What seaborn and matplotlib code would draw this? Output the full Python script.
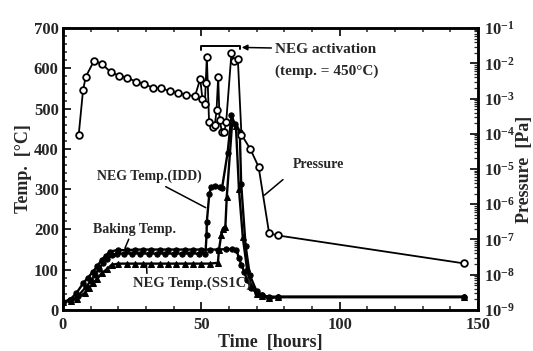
import matplotlib
matplotlib.use("Agg")
import matplotlib.pyplot as plt
import matplotlib.ticker as mticker
import seaborn as sns
import pandas as pd

# ---------------- data ----------------
baking_h = [0, 2.5, 4.9, 7.3, 9, 10.9, 12.5, 14, 15.5, 17, 20, 23, 26, 29, 32, 35, 38, 41,
            44, 47, 50, 53, 56, 59, 61, 62.7, 63.6, 64.5, 65.5, 66.5, 68, 70, 72, 74.5, 77.7, 145]
baking_t = [20, 25, 42, 66, 80, 95, 110, 124, 135, 145, 149, 148, 150, 150, 150, 150, 150, 150,
            150, 150, 150, 150, 150, 151, 151, 150, 128, 112, 95, 75, 55, 42, 36, 33, 33, 33]

idd_h = [0, 2.5, 5.5, 8.5, 10, 11.6, 13, 14.5, 16, 17.6, 19.5, 22, 25, 28, 31, 34, 37, 40, 43,
         46, 49, 51.5, 51.9, 52.0, 52.9, 53.6, 55, 56.7, 57.5, 59.5, 60.9, 62.1, 63.9, 64.4,
         66.0, 67.5, 70, 72, 74.5, 77.7, 145]
idd_t = [20, 24, 35, 58, 72, 87, 102, 116, 127, 136, 140, 140, 140, 140, 140, 140, 140, 140, 140,
         140, 140, 140, 186, 219, 289, 305, 308, 305, 303, 390, 483, 462, 442, 314,
         160, 87, 46, 36, 30, 32, 32]

ss1c_h = [0, 3, 5, 7.9, 9.5, 10.9, 12.5, 14, 16, 17.6, 20, 23, 26, 29, 32, 35, 38, 41, 44, 47,
          50, 53, 56.0, 56.4, 57.2, 57.8, 58.7, 59.2, 61.2, 62.5, 63.6, 65, 66.5, 68, 70, 72,
          74.5, 77.7, 145]
ss1c_t = [20, 22, 28, 42, 55, 66, 78, 91, 102, 112, 115, 115, 115, 115, 115, 115, 115, 115, 115,
          115, 115, 115, 117, 150, 186, 202, 207, 281, 470, 458, 300, 180, 103, 60, 40, 34,
          30, 32, 32]

press_h = [5.7, 7.3, 8.3, 11.3, 14.3, 17.3, 20.2, 23.3, 26.4, 29.3, 32.6, 35.6, 38.6, 41.6,
           44.6, 47.7, 49.6, 50.4, 51.3, 51.6, 52.0, 52.8, 54.2, 54.9, 55.5, 56.1, 56.6, 57.5,
           58.3, 59.0, 60.9, 61.8, 63.2, 64.5, 67.7, 70.7, 74.5, 77.7, 144.8]
press_pa = [9.1e-5, 1.8e-3, 4.2e-3, 1.2e-2, 9.3e-3, 5.6e-3, 4.5e-3, 3.9e-3, 3.0e-3, 2.6e-3,
            2.0e-3, 2.0e-3, 1.6e-3, 1.45e-3, 1.3e-3, 1.15e-3, 3.6e-3, 1.0e-3, 7.0e-4, 2.8e-3,
            1.55e-2, 2.2e-4, 1.6e-4, 1.75e-4, 4.6e-4, 4.1e-3, 2.5e-4, 1.1e-4, 1.1e-4, 2.2e-4,
            2.0e-2, 1.2e-2, 1.35e-2, 9.5e-5, 3.7e-5, 1.15e-5, 1.5e-7, 1.3e-7, 2.1e-8]

temp_ticks = [0, 100, 200, 300, 400, 500, 600, 700]
time_ticks = [0, 50, 100, 150]

# ---------------- style ----------------
sns.set_style("ticks")
plt.rcParams["font.family"] = ["Liberation Serif", "DejaVu Serif"]
plt.rcParams["font.weight"] = "bold"
plt.rcParams["mathtext.fontset"] = "custom"
plt.rcParams["mathtext.rm"] = "Liberation Serif:bold"
plt.rcParams["mathtext.bf"] = "Liberation Serif:bold"
plt.rcParams["mathtext.it"] = "Liberation Serif:bold"
plt.rcParams["mathtext.default"] = "bf"

fig = plt.figure(figsize=(5.33, 3.51), dpi=100)
ax = fig.add_axes([0.118, 0.117, 0.779, 0.803])
ax2 = ax.twinx()

lw = 1.7
df_b = pd.DataFrame({"h": baking_h, "t": baking_t})
df_i = pd.DataFrame({"h": idd_h, "t": idd_t})
df_s = pd.DataFrame({"h": ss1c_h, "t": ss1c_t})
df_p = pd.DataFrame({"h": press_h, "p": press_pa})

sns.lineplot(data=df_b, x="h", y="t", ax=ax, sort=False, estimator=None, color="black",
             lw=lw, marker="o", markersize=3.8, markeredgecolor="black")
sns.lineplot(data=df_i, x="h", y="t", ax=ax, sort=False, estimator=None, color="black",
             lw=lw, marker="o", markersize=3.8, markeredgecolor="black")
sns.lineplot(data=df_s, x="h", y="t", ax=ax, sort=False, estimator=None, color="black",
             lw=lw, marker="^", markersize=3.8, markeredgecolor="black")
sns.lineplot(data=df_p, x="h", y="p", ax=ax2, sort=False, estimator=None, color="black",
             lw=1.3, marker="o", markersize=4.8, markerfacecolor="white",
             markeredgecolor="black", markeredgewidth=1.3)

# ---------------- axes ----------------
ax.set_xlim(0, 150)
ax.set_ylim(0, 700)
ax.set_xticks(time_ticks)
ax.set_yticks(temp_ticks)
ax.xaxis.set_minor_locator(mticker.MultipleLocator(10))
ax.yaxis.set_minor_locator(mticker.MultipleLocator(20))
ax.tick_params(axis="both", which="major", direction="in", length=6, width=1.4,
               labelsize=12, top=True, right=False, pad=3)
ax.tick_params(axis="x", which="major", pad=5)
ax.tick_params(axis="both", which="minor", direction="in", length=3, width=1.1,
               top=True, right=False)
ax.set_xlabel("Time  [hours]", fontsize=13, fontweight="bold", labelpad=1)
ax.set_ylabel("Temp.  [°C]", fontsize=13, fontweight="bold", labelpad=1)

ax2.set_yscale("log")
ax2.set_ylim(1e-9, 1e-1)
ax2.yaxis.set_major_locator(mticker.LogLocator(base=10, numticks=12))
ax2.yaxis.set_minor_locator(mticker.LogLocator(base=10, subs=range(2, 10), numticks=12))
ax2.yaxis.set_major_formatter(mticker.LogFormatterMathtext())
ax2.yaxis.set_minor_formatter(mticker.NullFormatter())
ax2.tick_params(axis="y", which="major", direction="in", length=6, width=1.4, labelsize=12, pad=4)
ax2.tick_params(axis="y", which="minor", direction="in", length=3, width=0.9)
ax2.set_ylabel("Pressure  [Pa]", fontsize=13, fontweight="bold", labelpad=1)
ax2.set_xlabel("")

for a in (ax, ax2):
    for s in a.spines.values():
        s.set_linewidth(1.8)
        s.set_color("black")

for lab in ax.get_xticklabels() + ax.get_yticklabels() + ax2.get_yticklabels():
    lab.set_fontweight("bold")

# ---------------- annotations ----------------
ax.plot([50, 50, 64, 64], [645, 656, 656, 648], color="black", lw=1.4)
ax.annotate("NEG activation", xy=(64.6, 652), xytext=(76.5, 648), fontsize=11,
            fontweight="bold", ha="left", va="center",
            arrowprops=dict(arrowstyle="-|>", color="black", lw=1.1, mutation_scale=8,
                            shrinkA=0, shrinkB=0))
ax.text(76.5, 594, "(temp. = 450°C)", fontsize=11, fontweight="bold", ha="left", va="center")

ax.annotate("Pressure", xy=(72.8, 285), xytext=(83, 360), fontsize=10, fontweight="bold",
            ha="left", va="center",
            arrowprops=dict(arrowstyle="-", color="black", lw=1.1, shrinkA=6, shrinkB=0,
                            relpos=(0, 0)))
ax.annotate("NEG Temp.(IDD)", xy=(51.6, 254), xytext=(12.2, 331), fontsize=10,
            fontweight="bold", ha="left", va="center",
            arrowprops=dict(arrowstyle="-", color="black", lw=1.1, shrinkA=0, shrinkB=0,
                            relpos=(0.6, 0)))
ax.annotate("Baking Temp.", xy=(22.4, 153), xytext=(10.8, 200), fontsize=10,
            fontweight="bold", ha="left", va="center",
            arrowprops=dict(arrowstyle="-", color="black", lw=1.1, shrinkA=0, shrinkB=0,
                            relpos=(0.45, 0)))
ax.annotate("NEG Temp.(SS1C)", xy=(30.2, 112), xytext=(25.3, 66), fontsize=10.5,
            fontweight="bold", ha="left", va="center",
            arrowprops=dict(arrowstyle="-", color="black", lw=1.1, shrinkA=0, shrinkB=0,
                            relpos=(0.12, 1)))

fig.savefig("out.png", dpi=100)
